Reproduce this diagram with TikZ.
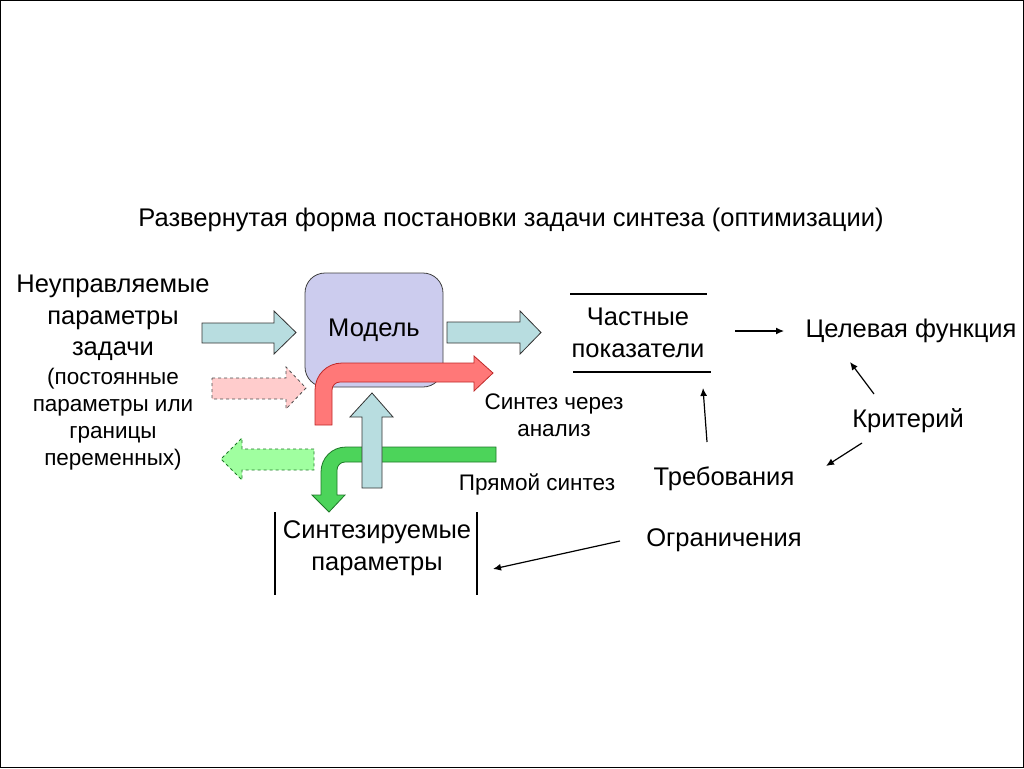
\documentclass[tikz,border=0pt]{standalone}
\usepackage{fontspec}
\setmainfont{Liberation Sans}
\usetikzlibrary{arrows.meta}

\definecolor{modelfill}{RGB}{204,204,238}
\definecolor{bluefill}{RGB}{184,221,224}
\definecolor{redfill}{RGB}{255,120,120}
\definecolor{reddraw}{RGB}{190,40,40}
\definecolor{pinkfill}{RGB}{255,204,204}
\definecolor{greenfill}{RGB}{76,212,90}
\definecolor{greendraw}{RGB}{30,120,40}
\definecolor{lgreenfill}{RGB}{160,255,160}

\tikzset{
  lbl/.style={font=\fontsize{25.5}{31.5}\selectfont, align=center, inner sep=0pt},
  slbl/.style={font=\fontsize{22.5}{27}\selectfont, align=center, inner sep=0pt},
  modelbox/.style={draw=black!75, fill=modelfill, line width=0.8pt, rounded corners=20pt,
    minimum width=138pt, minimum height=114pt, font=\fontsize{25.5}{31.5}\selectfont},
  bluearr/.style={draw=black!80, fill=bluefill, line width=0.8pt},
  pinkarr/.style={draw=black!70, fill=pinkfill, line width=0.8pt, dashed},
  redarr/.style={draw=reddraw, fill=redfill, line width=0.8pt},
  greenarr/.style={draw=greendraw, fill=greenfill, line width=0.8pt},
  lgreenarr/.style={draw=greendraw, fill=lgreenfill, line width=0.8pt, dashed},
  thinarr/.style={line width=1.2pt, -{Latex[length=8pt,width=7pt]}},
  bar/.style={line width=1.4pt}
}

\begin{document}
\begin{tikzpicture}[x=1pt, y=-1pt]
  \draw[line width=1pt, use as bounding box] (0.5,0.5) rectangle (1023.5,767.5);

  % Define nodes
  \node[lbl] (title) at (511,220) {Развернутая форма постановки задачи синтеза (оптимизации)};
  \node[lbl] (unctrl) at (113,318) {Неуправляемые\\параметры\\задачи};
  \node[slbl] (consts) at (113,419) {(постоянные\\параметры или\\границы\\переменных)};
  \node[modelbox] (model) at (374,330) {Модель};
  \node[lbl] (part) at (638,333) {Частные\\показатели};
  \node[lbl] (goal) at (911,331) {Целевая функция};
  \node[lbl] (crit) at (908,421) {Критерий};
  \node[lbl] (req) at (724,479) {Требования};
  \node[lbl] (constr) at (724,540) {Ограничения};
  \node[lbl] (synp) at (377,548) {Синтезируемые\\параметры};
  \node[slbl] (anal) at (554,415) {Синтез через\\анализ};
  \node[slbl] (direct) at (537,484) {Прямой синтез};

  % block arrows
  \draw[bluearr] (202,323) -- (274,323) -- (274,311) -- (296,332.5) -- (274,354) -- (274,343) -- (202,343) -- cycle;
  \draw[bluearr] (447,322) -- (520,322) -- (520,311) -- (541,332.5) -- (520,354) -- (520,343) -- (447,343) -- cycle;
  \draw[pinkarr] (212,378) -- (286,378) -- (286,367) -- (306,388) -- (286,409) -- (286,399) -- (212,399) -- cycle;
  \draw[redarr] (315,425) -- (315,390) .. controls (315,375) and (327,363) .. (342,363) -- (474,363)
    -- (474,356) -- (493,373) -- (474,391) -- (474,382) -- (340,382)
    .. controls (335.6,382) and (332,385.6) .. (332,390) -- (332,425) -- cycle;
  \draw[lgreenarr] (314,449) -- (242,449) -- (242,438) -- (221,459) -- (242,480) -- (242,470) -- (314,470) -- cycle;
  \draw[greenarr] (496,447) -- (346,447) .. controls (332,447) and (321,458) .. (321,472) -- (321,495)
    -- (312,495) -- (329,512) -- (345,495) -- (337,495) -- (337,470)
    .. controls (337,465.6) and (340.6,462) .. (345,462) -- (496,462) -- cycle;
  \draw[bluearr] (362,488) -- (362,417) -- (350,417) -- (372,393) -- (393,417) -- (382,417) -- (382,488) -- cycle;

  % bars
  \draw[bar] ([shift={(-68,-39)}]part.center) -- ([shift={(69,-39)}]part.center);
  \draw[bar] ([shift={(-65,39)}]part.center) -- ([shift={(73,39)}]part.center);
  \draw[bar] ([shift={(-102,-36)}]synp.center) -- ([shift={(-102,47)}]synp.center);
  \draw[bar] ([shift={(100,-36)}]synp.center) -- ([shift={(100,47)}]synp.center);

  % thin arrows
  \draw[thinarr] ([shift={(97,-2)}]part.center) -- ([shift={(-127,0)}]goal.center);
  \draw[thinarr] ([shift={(-34,-27)}]crit.center) -- ([shift={(-61,31)}]goal.center);
  \draw[thinarr] ([shift={(-46,22)}]crit.center) -- ([shift={(102,-13)}]req.center);
  \draw[thinarr] ([shift={(-17,-37)}]req.center) -- ([shift={(65,55)}]part.center);
  \draw[thinarr] ([shift={(-104,1)}]constr.center) -- ([shift={(116,21)}]synp.center);
\end{tikzpicture}
\end{document}
